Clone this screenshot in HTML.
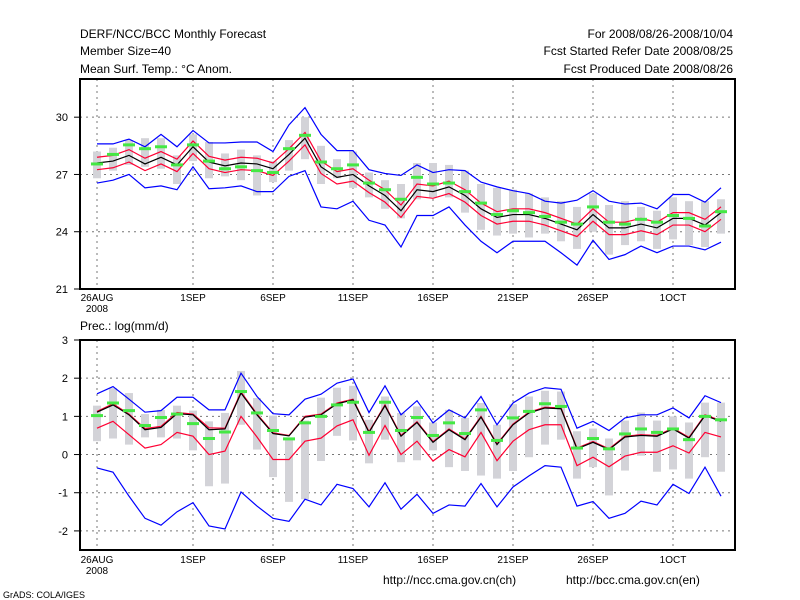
<!DOCTYPE html>
<html><head><meta charset="utf-8"><style>
body{margin:0;background:#fff;}
svg{display:block;font-family:"Liberation Sans",sans-serif;}
</style></head><body>
<svg id="chart" width="800" height="600">
<rect width="800" height="600" fill="#fff"/>
<g font-size="12" fill="#000">
<text x="80" y="38">DERF/NCC/BCC Monthly Forecast</text>
<text x="80" y="55">Member Size=40</text>
<text x="80" y="73">Mean Surf. Temp.: °C Anom.</text>
<text x="733" y="38" text-anchor="end">For 2008/08/26-2008/10/04</text>
<text x="733" y="55" text-anchor="end">Fcst Started Refer Date 2008/08/25</text>
<text x="733" y="73" text-anchor="end">Fcst Produced Date 2008/08/26</text>
<text x="80" y="330">Prec.: log(mm/d)</text>
<text x="383" y="584">http://ncc.cma.gov.cn(ch)</text>
<text x="566" y="584">http://bcc.cma.gov.cn(en)</text>
<text x="3" y="598" font-size="9">GrADS: COLA/IGES</text>
</g>
<g id="top"></g>
<g id="bot"></g>
</svg>
<script>
const xLabels=["26AUG","1SEP","6SEP","11SEP","16SEP","21SEP","26SEP","1OCT"];
const xLabelDays=[0,6,11,16,21,26,31,36];
const tTicks=[21,24,27,30];
const pTicks=[-2,-1,0,1,2,3];
const tMean=[27.6,27.7,28.0,27.55,27.9,27.5,28.45,27.65,27.45,27.6,27.55,27.3,28.05,28.9,27.4,26.85,27.0,26.4,25.9,25.1,26.2,26.1,26.35,25.9,25.2,24.75,24.9,24.9,24.7,24.4,24.1,24.9,24.2,24.2,24.4,24.2,24.7,24.7,24.35,25.0];
const tRedHi=[27.9,28.0,28.3,27.85,28.2,27.8,28.75,27.95,27.75,27.9,27.85,27.6,28.35,29.2,27.7,27.15,27.3,26.7,26.2,25.4,26.5,26.4,26.65,26.2,25.5,25.05,25.2,25.2,25.0,24.7,24.4,25.2,24.5,24.5,24.7,24.5,25.0,25.0,24.65,25.3];
const tRedLo=[27.25,27.35,27.65,27.2,27.55,27.15,28.1,27.3,27.1,27.25,27.2,26.95,27.7,28.55,27.05,26.5,26.65,26.05,25.55,24.75,25.85,25.75,26.0,25.55,24.85,24.4,24.55,24.55,24.35,24.05,23.75,24.55,23.85,23.85,24.05,23.85,24.35,24.35,24.0,24.65];
const tBlueHi=[28.6,28.6,28.85,28.45,29.1,28.45,29.3,28.65,28.65,28.7,28.7,28.2,29.6,30.5,29.1,28.25,28.25,27.25,27.05,26.95,27.5,27.1,27.25,27.2,26.6,26.35,26.15,26.0,25.6,25.5,25.65,26.15,25.6,25.45,25.5,25.2,25.95,25.95,25.55,26.3];
const tBlueLo=[26.55,26.7,27.0,26.3,26.4,26.2,27.4,26.25,26.3,26.4,26.1,26.1,26.9,27.2,25.3,25.2,25.6,24.6,24.35,23.2,24.85,24.85,25.3,24.35,23.5,22.9,23.5,23.5,23.5,22.9,22.25,23.55,22.55,22.8,23.25,22.9,23.25,23.25,23.05,23.45];
const tObs=[27.55,28.05,28.55,28.35,28.45,27.5,28.55,27.7,27.3,27.4,27.2,27.1,28.35,29.05,27.65,27.3,27.5,26.55,26.2,25.7,26.85,26.5,26.55,26.1,25.5,24.9,25.1,25.0,24.8,24.5,24.4,25.3,24.5,24.4,24.65,24.5,24.85,24.7,24.3,25.05];
const tBarLo=[26.8,27.2,27.5,27.4,27.3,26.5,27.7,26.8,26.9,26.7,25.9,26.6,27.2,27.8,26.5,26.8,26.3,25.8,25.2,24.7,25.7,25.8,25.8,25.0,24.1,23.8,23.9,23.7,23.9,23.5,23.1,24.0,22.8,23.3,23.5,23.1,23.6,23.3,23.2,23.9];
const tBarHi=[28.2,28.4,28.8,28.9,28.9,28.0,29.1,28.7,28.1,28.3,28.0,27.7,28.8,30.0,28.5,27.8,28.2,27.1,26.7,26.5,27.6,27.6,27.5,27.2,26.5,26.3,26.2,26.0,25.8,25.6,25.3,26.0,25.4,25.6,25.3,25.1,25.8,25.6,25.6,25.7];
const pMean=[1.11,1.30,1.04,0.65,0.71,1.07,1.04,0.65,0.67,1.61,1.04,0.55,0.49,0.98,1.04,1.33,1.43,0.58,1.28,0.48,0.84,0.32,0.65,0.39,0.98,0.26,0.78,1.09,1.22,1.2,0.15,0.32,0.13,0.46,0.50,0.48,0.67,0.43,1.02,0.87];
const pRedHi=[1.13,1.33,1.06,0.68,0.74,1.1,1.06,0.7,0.69,1.64,1.06,0.57,0.5,1.0,1.06,1.35,1.45,0.6,1.3,0.5,0.86,0.34,0.67,0.41,1.0,0.28,0.8,1.11,1.24,1.22,0.17,0.34,0.15,0.48,0.52,0.5,0.69,0.45,1.04,0.89];
const pRedLo=[0.69,0.87,0.52,0.17,0.26,0.58,0.48,0,0.09,1.0,0.46,-0.13,-0.13,0.35,0.43,0.75,0.91,-0.02,0.76,0,0.35,-0.17,0.13,-0.06,0.58,-0.16,0.35,0.65,0.78,0.78,-0.29,-0.07,-0.32,-0.04,0.06,0.06,0.23,0.04,0.58,0.46];
const pBlueHi=[1.59,1.78,1.45,1.11,1.15,1.5,1.5,1.17,1.17,2.13,1.52,1.07,1.04,1.45,1.58,1.87,1.98,1.1,1.8,1.04,1.41,0.83,1.17,0.96,1.52,0.78,1.35,1.61,1.75,1.71,0.69,0.87,0.63,0.96,1.04,1.04,1.22,0.96,1.54,1.36];
const pBlueLo=[-0.35,-0.46,-1.09,-1.67,-1.85,-1.5,-1.26,-1.87,-1.95,-0.98,-1.35,-1.67,-1.75,-1.17,-1.32,-0.78,-0.89,-1.37,-0.74,-1.43,-1.04,-1.54,-1.32,-1.35,-0.76,-1.37,-0.85,-0.56,-0.29,-0.33,-1.35,-1.23,-1.67,-1.54,-1.22,-1.32,-0.78,-1.02,-0.33,-1.09];
const pObs=[1.02,1.35,1.15,0.76,0.97,1.06,0.81,0.42,0.59,1.65,1.09,0.63,0.41,0.83,1.0,1.3,1.37,0.58,1.37,0.63,0.97,0.5,0.83,0.55,1.17,0.37,0.96,1.13,1.33,1.26,0.17,0.42,0.15,0.54,0.67,0.58,0.67,0.39,1.0,0.91];
const pBarLo=[0.35,0.42,0.26,0.45,0.45,0.42,0.11,-0.83,-0.76,0.78,0.13,-0.59,-1.24,-1.17,-0.17,0.49,0.37,-0.23,0.39,-0.2,-0.15,0.11,-0.33,-0.43,-0.55,-0.63,-0.43,-0.07,0.26,0.39,-0.63,-0.33,-1.07,-0.42,-0.03,-0.45,-0.39,-0.63,-0.07,-0.45];
const pBarHi=[1.28,1.74,1.61,1.06,1.17,1.28,1.15,0.87,1.09,2.19,1.48,1.02,0.39,0.89,1.49,1.75,1.8,0.91,1.52,1.09,1.26,0.84,1.17,0.96,1.35,0.78,1.32,1.52,1.67,1.65,0.61,0.68,0.42,0.89,1.1,0.89,1.0,0.84,1.36,1.36];

const NS='http://www.w3.org/2000/svg';
function mk(parent,tag,attrs){const e=document.createElementNS(NS,tag);for(const k in attrs)e.setAttribute(k,attrs[k]);parent.appendChild(e);return e;}
const xOf=d=>97+d*16;
function panel(g,top,bottom,vmin,vmax,ticks,bars,series,obs,labY){
  const yOf=v=>bottom-(v-vmin)/(vmax-vmin)*(bottom-top);
  // grid
  ticks.forEach(t=>{const y=yOf(t);if(y>top+1&&y<bottom-1){const l=mk(g,'line',{x1:80,x2:735,y1:y,y2:y,stroke:'#777','stroke-dasharray':'2,4'});

}
    const tx=mk(g,'text',{x:68,y:y+4,'text-anchor':'end','font-size':'11'});tx.textContent=t;


    const tk=mk(g,'line',{x1:74,x2:80,y1:y,y2:y,stroke:'#000'});

});
  xLabelDays.forEach((d,i)=>{const x=xOf(d);const l=mk(g,'line',{x1:x,x2:x,y1:top,y2:bottom,stroke:'#777','stroke-dasharray':'2,4'});


    const tx=mk(g,'text',{x:x,y:labY,'text-anchor':'middle','font-size':'10'});tx.textContent=xLabels[i];

});
  const yr=mk(g,'text',{x:xOf(0),y:labY+11,'text-anchor':'middle','font-size':'10'});yr.textContent='2008';


  // bars
  bars[0].forEach((lo,i)=>{const y1=yOf(bars[1][i]),y2=yOf(lo);const r=mk(g,'rect',{x:xOf(i)-4,y:y1,width:8,height:y2-y1,fill:'#d3d3d8'});

});
  series.forEach(([arr,col,nm])=>{const p=mk(g,'polyline',{points:arr.map((v,i)=>xOf(i)+','+yOf(v)).join(' '),fill:'none',stroke:col,'stroke-width':1.2});

});
  obs.forEach((v,i)=>{const r=mk(g,'rect',{x:xOf(i)-6,y:yOf(v)-1.5,width:12,height:3,fill:'#44e844'});

});
  const f=mk(g,'rect',{x:80,y:top,width:655,height:bottom-top,fill:'none',stroke:'#000','stroke-width':2});


}
panel(document.getElementById('top'),79,289,21,32,tTicks,[tBarLo,tBarHi],
 [[tBlueHi,'#0000ff','blue-upper-line'],[tBlueLo,'#0000ff','blue-lower-line'],[tRedHi,'#ff0033','red-upper-line'],[tRedLo,'#ff0033','red-lower-line'],[tMean,'#000','ensemble-mean-line']],tObs,301);
panel(document.getElementById('bot'),340,550,-2.5,3,pTicks,[pBarLo,pBarHi],
 [[pBlueHi,'#0000ff','blue-upper-line'],[pBlueLo,'#0000ff','blue-lower-line'],[pRedHi,'#ff0033','red-upper-line'],[pRedLo,'#ff0033','red-lower-line'],[pMean,'#000','ensemble-mean-line']],pObs,563);
</script>
</body></html>
